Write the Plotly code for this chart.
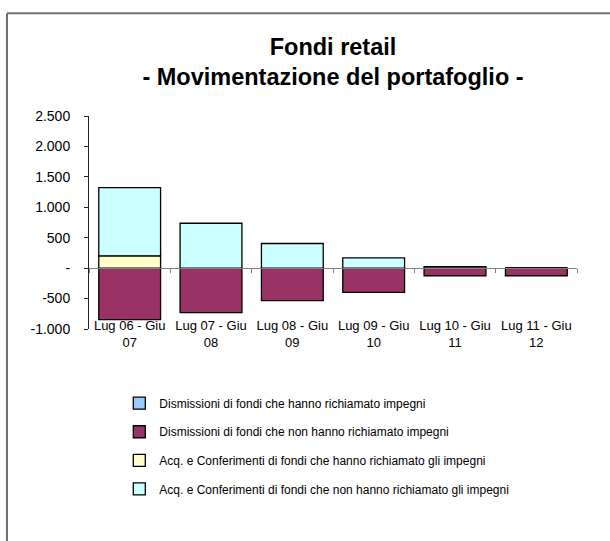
import plotly.graph_objects as go

categories = ["Lug 06 - Giu<br>07", "Lug 07 - Giu<br>08", "Lug 08 - Giu<br>09",
              "Lug 09 - Giu<br>10", "Lug 10 - Giu<br>11", "Lug 11 - Giu<br>12"]

dism_richiamato = [0, 0, 0, 0, 0, 0]
dism_non_richiamato = [-846, -731, -535, -398, -125, -125]
acq_richiamato = [203, 0, 0, 0, 0, 0]
acq_non_richiamato = [1120, 738, 405, 170, 25, 0]

series_names = [
    "Dismissioni di fondi che hanno richiamato impegni",
    "Dismissioni di fondi che non hanno richiamato impegni",
    "Acq. e Conferimenti di fondi che hanno richiamato gli impegni",
    "Acq. e Conferimenti di fondi che non hanno richiamato gli impegni",
]
series_values = [dism_richiamato, dism_non_richiamato, acq_richiamato, acq_non_richiamato]
series_colors = ["#99CCFF", "#993366", "#FFFFCC", "#CCFFFF"]

y_tickvals = [-1000, -500, 0, 500, 1000, 1500, 2000, 2500]
y_ticktext = ["-1.000", "-500", "-", "500", "1.000", "1.500", "2.000", "2.500"]

FONT = "Liberation Sans, Arial, sans-serif"

fig = go.Figure()
for i, (name, vals, col) in enumerate(zip(series_names, series_values, series_colors)):
    fig.add_trace(go.Bar(
        x=categories, y=vals, name=name, legendgroup=f"g{i}",
        marker=dict(color=col, line=dict(color="black", width=1.3)),
    ))

# helper axis drawn at zero with tick marks between categories
fig.add_trace(go.Scatter(x=categories, y=[None] * len(categories), xaxis="x2",
                         mode="markers", showlegend=False, hoverinfo="skip"))

y_min, y_max = -1000, 2500
zero_pos = (0 - y_min) / (y_max - y_min)

W, H = 610, 541
ML, MT = 89, 116
PW, PH = 488, 213.5
MR, MB = W - ML - PW, H - MT - PH

frame_x = (7 - ML) / PW
frame_y = 1 + (MT - 13) / PH

fig.update_layout(
    width=W, height=H,
    paper_bgcolor="white", plot_bgcolor="white",
    margin=dict(l=ML, r=MR, t=MT, b=MB, pad=0),
    barmode="relative", bargap=0.24,
    font=dict(family=FONT, color="black"),
    title=dict(text="<b>Fondi retail<br>- Movimentazione del portafoglio -</b>",
               xref="container", x=333 / W, xanchor="center",
               yref="container", y=1 - 54.5 / H, yanchor="middle",
               font=dict(size=23.5, family=FONT, color="black")),
    xaxis=dict(type="category", range=[-0.5, 5.5], showline=False, ticks="",
               showgrid=False, tickfont=dict(size=13), ticklabelstandoff=-13),
    xaxis2=dict(type="category", overlaying="x", anchor="free", position=zero_pos,
                range=[-0.5, 5.5], categoryarray=categories, categoryorder="array",
                showline=True, linecolor="#808080", linewidth=1,
                ticks="outside", tickson="boundaries", ticklen=4, tickcolor="#808080",
                showticklabels=False, showgrid=False),
    yaxis=dict(range=[y_min, y_max], tickvals=y_tickvals, ticktext=y_ticktext,
               showline=True, linecolor="#202020", linewidth=1,
               ticks="outside", ticklen=4, tickcolor="#202020",
               showgrid=False, zeroline=False, tickfont=dict(size=14),
               ticklabelstandoff=11),
    legend=dict(x=(119.3 - ML) / PW, y=-(389.3 - (MT + PH)) / PH,
                xanchor="left", yanchor="top",
                traceorder="grouped", tracegroupgap=9.6,
                font=dict(size=12, family=FONT), bgcolor="rgba(0,0,0,0)"),
    shapes=[
        dict(type="line", xref="paper", yref="paper",
             x0=frame_x, x1=frame_x, y0=-3, y1=frame_y,
             line=dict(color="#707070", width=2), layer="below"),
        dict(type="line", xref="paper", yref="paper",
             x0=frame_x, x1=3, y0=frame_y, y1=frame_y,
             line=dict(color="#707070", width=2), layer="below"),
    ],
)

fig.write_html("out.html",
               config={"displayModeBar": False},
               post_script="document.body.style.margin='0';"
                           "document.body.style.overflow='hidden';")
